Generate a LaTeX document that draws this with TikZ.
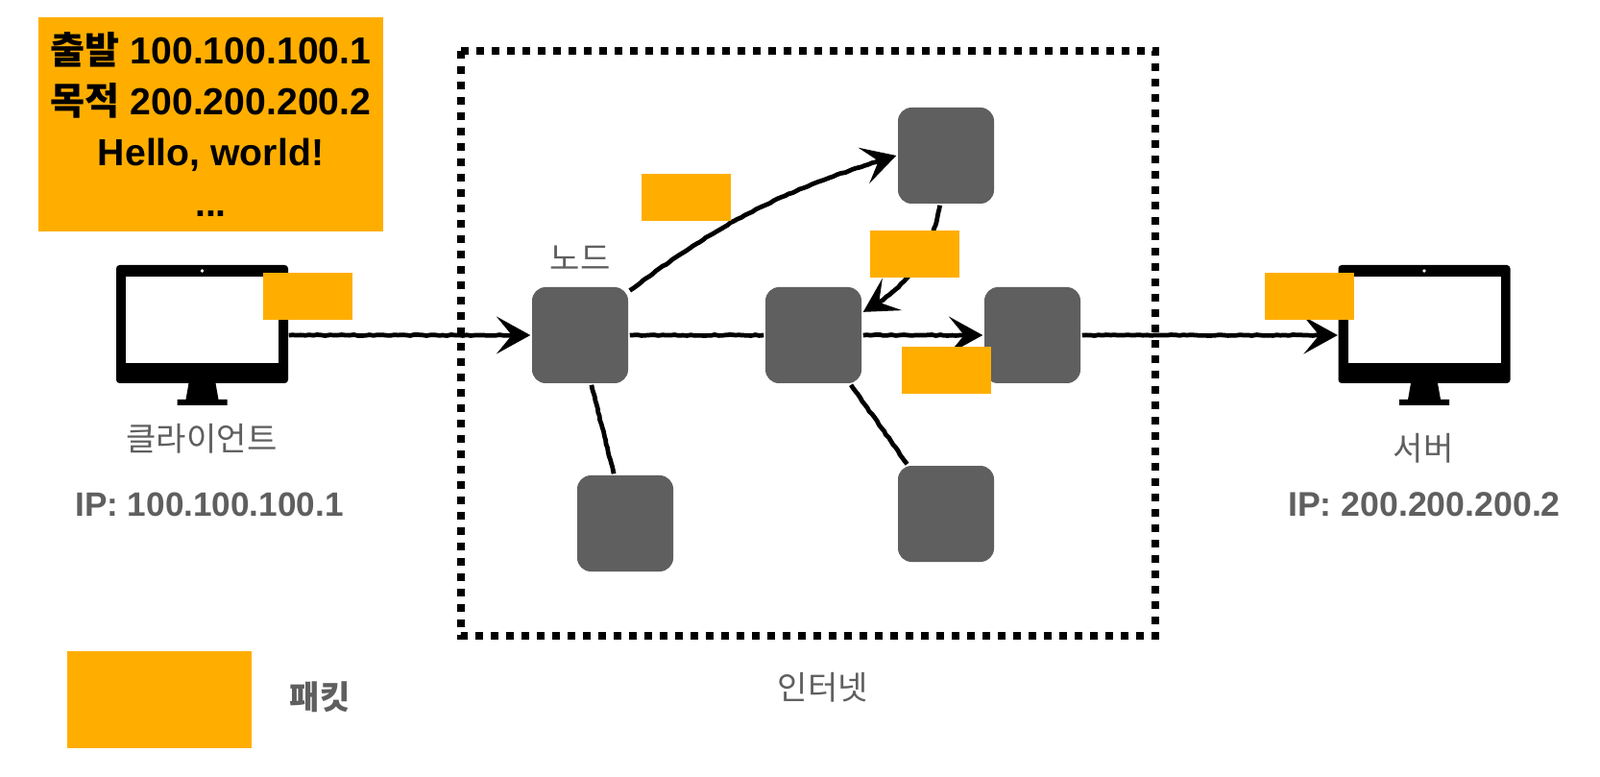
\documentclass[tikz,border=0pt]{standalone}
\usepackage{fontspec}
\setmainfont{Liberation Sans}
\newfontfamily\krfont{Noto Sans CJK KR}
\usetikzlibrary{arrows.meta,decorations.pathmorphing,calc}
\definecolor{packetorange}{HTML}{FFAE00}
\definecolor{nodegray}{HTML}{5F5F5F}
\tikzset{
  router/.style={fill=nodegray,rounded corners=4pt,minimum size=1cm,inner sep=0pt,outer sep=0.5pt},
  packet/.style={fill=packetorange,minimum width=0.93cm,minimum height=0.49cm,inner sep=0pt},
  wire/.style={line width=1.35pt,decorate,decoration={random steps,segment length=1.2pt,amplitude=0.14pt,post length=5pt}},
  arrowwire/.style={wire,-{Stealth[length=10pt,width=11pt,inset=4.5pt]}},
  label/.style={text=nodegray,inner sep=0pt,font=\krfont\fontsize{9.7}{12}\selectfont},
  addr/.style={text=nodegray,inner sep=0pt,font=\bfseries\fontsize{10}{12}\selectfont}
}
\begin{document}
\begin{tikzpicture}
  \useasboundingbox (0,0) rectangle (16.66,8.08);
  % Internet boundary
  \draw[line width=0.08cm,dash pattern=on 0.08cm off 0.08cm] (4.80,7.55) rectangle (12.03,1.46);

  % Monitors
  \foreach \m/\x in {client/2.105,server/14.83} {
    \node[fill=black,rounded corners=1pt,minimum width=1.79cm,minimum height=1.23cm,inner sep=0pt] (\m) at (\x,4.705) {};
    \fill[black] (\x-0.14,4.09) -- (\x+0.14,4.09) -- (\x+0.17,3.92) -- (\x+0.26,3.92) -- (\x+0.26,3.86)
      -- (\x-0.26,3.86) -- (\x-0.26,3.92) -- (\x-0.17,3.92) -- cycle;
    \fill[white] (\x-0.795,4.295) rectangle (\x+0.795,5.20);
    \fill[white] (\x,5.26) circle (0.018);
  }

  % Routers
  \node[router] (nodeA) at (6.04,4.59) {};
  \node[router] (nodeB) at (8.47,4.59) {};
  \node[router] (nodeC) at (10.75,4.59) {};
  \node[router] (nodeTop) at (9.85,6.46) {};
  \node[router] (nodeLeft) at (6.51,2.63) {};
  \node[router] (nodeRight) at (9.85,2.73) {};

  % Connectors
  \draw[arrowwire] (client.east |- nodeA) -- (nodeA);
  \draw[wire,decoration={post length=0pt}] (nodeA) -- (nodeB);
  \draw[arrowwire] (nodeB) -- (nodeC);
  \draw[arrowwire] (nodeC) -- (nodeC -| server.west);
  \draw[arrowwire] (nodeA.42) to[bend left=10] (nodeTop.west);
  \draw[arrowwire] (nodeTop.-97) to[bend left=25] (nodeB.25);
  \draw[wire,decoration={post length=0pt}] (nodeA.-77) -- (nodeLeft.103);
  \draw[wire,decoration={post length=0pt}] (nodeB.-53) -- (nodeRight.128);

  % Packets
  \node[packet] (packetClient) at (3.205,4.995) {};
  \node[packet] (packetServer) at (13.635,4.995) {};
  \node[packet] (packetUp) at (7.145,6.025) {};
  \node[packet] (packetDown) at (9.525,5.435) {};
  \node[packet] (packetOut) at (9.855,4.22) {};
  \node[fill=packetorange,minimum width=1.92cm,minimum height=1.01cm,inner sep=0pt] (legend) at (1.66,0.795) {};
  \node[fill=packetorange,minimum width=3.59cm,minimum height=2.23cm,inner sep=0pt,align=center,
    font=\bfseries\fontsize{11.15}{15}\selectfont] (header) at (2.195,6.785)
    {{\krfont\bfseries 출발} 100.100.100.1\\{\krfont\bfseries 목적} 200.200.200.2\\Hello, world!\\...};

  % Labels
  \node[label] (clientName) at (2.10,3.51) {클라이언트};
  \node[addr] (clientAddr) at (2.18,2.83) {IP: 100.100.100.1};
  \node[label] (serverName) at (14.82,3.41) {서버};
  \node[addr,font=\bfseries\fontsize{10.15}{12}\selectfont] (serverAddr) at (14.83,2.83) {IP: 200.200.200.2};
  \node[label] (nodeName) at (6.04,5.39) {노드};
  \node[label] (netName) at (8.57,0.92) {인터넷};
  \node[label,font=\krfont\bfseries\fontsize{9.7}{12}\selectfont] (legendName) at (3.33,0.82) {패킷};
\end{tikzpicture}
\end{document}
